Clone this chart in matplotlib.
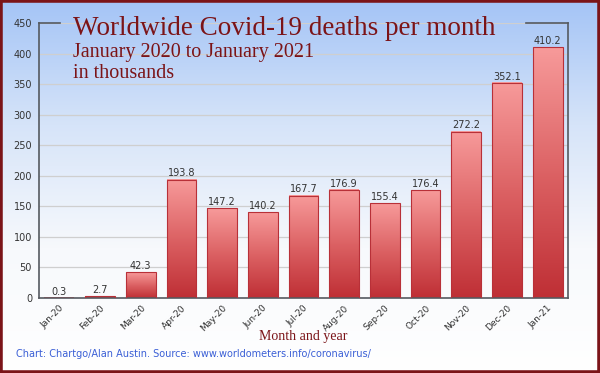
import numpy as np
import matplotlib
matplotlib.use("Agg")
import matplotlib.pyplot as plt
from matplotlib.colors import LinearSegmentedColormap
from matplotlib.patches import Rectangle

months = ["Jan-20", "Feb-20", "Mar-20", "Apr-20", "May-20", "Jun-20", "Jul-20",
          "Aug-20", "Sep-20", "Oct-20", "Nov-20", "Dec-20", "Jan-21"]
deaths = [0.3, 2.7, 42.3, 193.8, 147.2, 140.2, 167.7, 176.9, 155.4, 176.4, 272.2, 352.1, 410.2]
yticks = [0, 50, 100, 150, 200, 250, 300, 350, 400, 450]

DARKRED = "#7b1418"

fig = plt.figure(figsize=(6, 3.73), dpi=100)

# background gradient over the whole figure
bg = fig.add_axes([0, 0, 1, 1], zorder=-10)
bg_cmap = LinearSegmentedColormap.from_list("bg", ["#a4c4f6", "#d6e4f9", "#f7f9fc", "#ffffff"])
bg.imshow(np.linspace(0, 1, 256).reshape(-1, 1), cmap=bg_cmap, aspect="auto",
          extent=[0, 1, 0, 1])
bg.set_axis_off()

ax = fig.add_axes([39/600, 75/373, 529/600, 275/373])
ax.patch.set_alpha(0)

x = np.arange(len(months))
bars = ax.bar(x, deaths, width=0.73, facecolor="none", edgecolor="#b83038", linewidth=0.8, zorder=3)

bar_cmap = LinearSegmentedColormap.from_list("bar", ["#bf2f35", "#dc6264", "#f79a9a"])
grad = np.linspace(0, 1, 128).reshape(-1, 1)
for b in bars:
    x0, y0 = b.get_x(), b.get_y()
    ax.imshow(grad, cmap=bar_cmap, aspect="auto", origin="lower", zorder=2,
              extent=[x0, x0 + b.get_width(), y0, y0 + b.get_height()])

for xi, v in zip(x, deaths):
    ax.text(xi, v + 2, f"{v}", ha="center", va="bottom", fontsize=7, color="#333333", zorder=4)

ax.set_xlim(-0.5, len(months) - 0.5)
ax.set_ylim(0, 450)
ax.set_yticks(yticks)
ax.set_yticklabels([str(t) for t in yticks], fontsize=7, color="#333333")
ax.set_xticks(x)
ax.set_xticklabels(months, rotation=45, ha="right", rotation_mode="anchor", fontsize=6.5, color="#333333")
ax.tick_params(axis="y", length=0, pad=5)
ax.tick_params(axis="x", length=0, pad=4)
ax.grid(axis="y", color="#cfcfcf", linewidth=0.9, zorder=0)
ax.set_axisbelow(True)

for s in ["left", "bottom", "right"]:
    ax.spines[s].set_color("#555a60")
    ax.spines[s].set_linewidth(1.2)
ax.spines["top"].set_visible(False)
# short top frame pieces at the corners
ax.plot([0, 0.04], [1, 1], transform=ax.transAxes, color="#555a60", lw=1.2, clip_on=False)
ax.plot([0.92, 1], [1, 1], transform=ax.transAxes, color="#555a60", lw=1.2, clip_on=False)

fig.text(73/600, 1 - 35/373, "Worldwide Covid-19 deaths per month", fontsize=19.5,
         family="Liberation Serif", color=DARKRED, va="baseline")
fig.text(73/600, 1 - 57/373, "January 2020 to January 2021", fontsize=14.5,
         family="Liberation Serif", color=DARKRED, va="baseline")
fig.text(73/600, 1 - 78/373, "in thousands", fontsize=14.5,
         family="Liberation Serif", color=DARKRED, va="baseline")

fig.text(303/600, 1 - 340/373, "Month and year", fontsize=10, family="Liberation Serif",
         color=DARKRED, ha="center", va="baseline")
fig.text(16/600, 1 - 357/373,
         "Chart: Chartgo/Alan Austin. Source: www.worldometers.info/coronavirus/",
         fontsize=7, color="#3b5fd6", va="baseline")

fig.patches.append(Rectangle((0, 0), 1, 1, transform=fig.transFigure, fill=False,
                             edgecolor=DARKRED, linewidth=4, zorder=20))

fig.savefig("out.png", dpi=100)
